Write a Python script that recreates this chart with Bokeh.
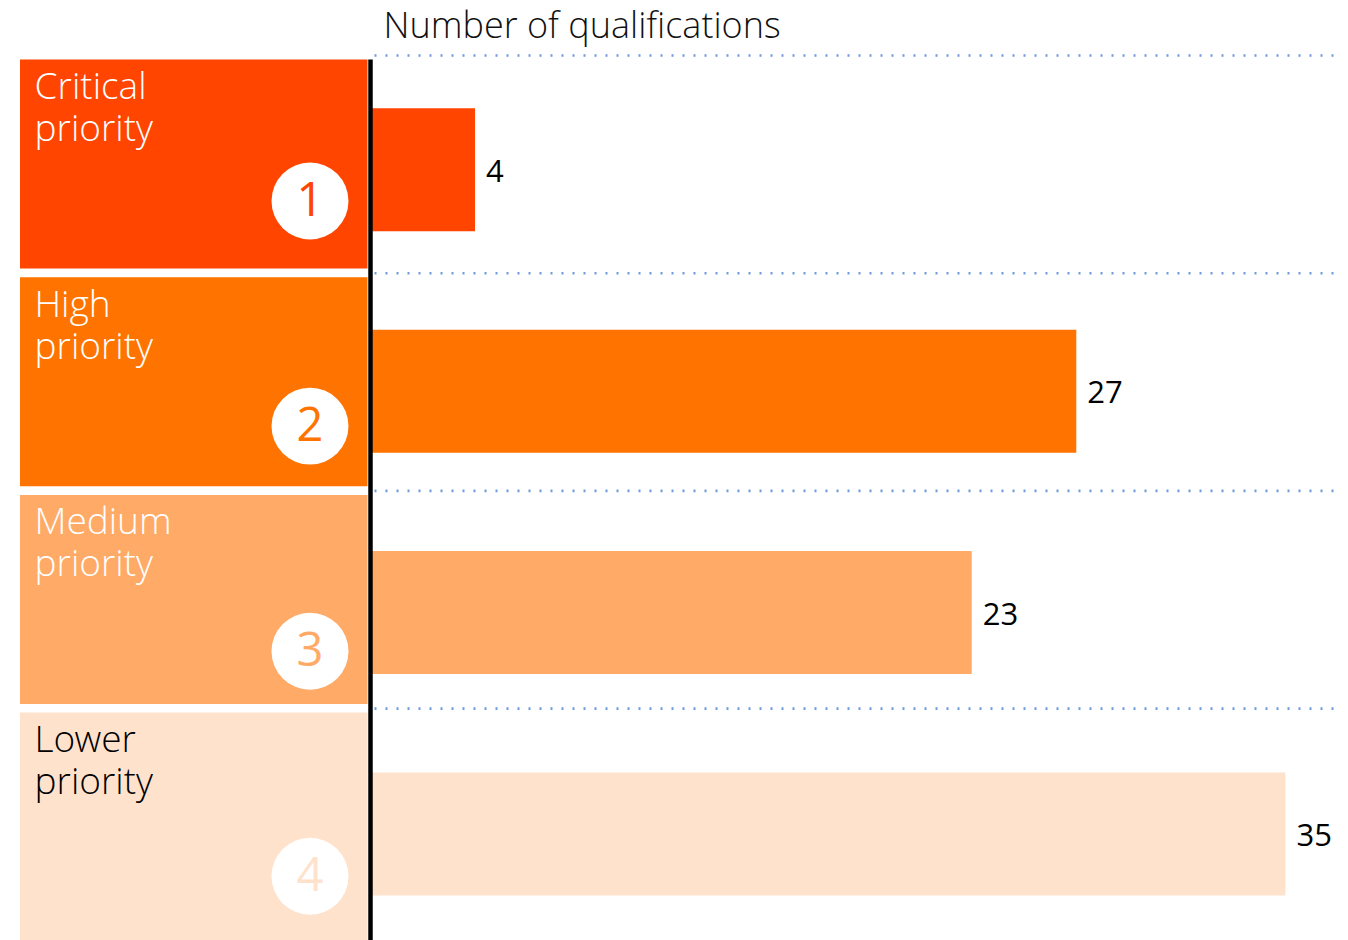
from bokeh.plotting import figure
from bokeh.models import Range1d, ColumnDataSource
from bokeh.core.properties import value
from bokeh.embed import file_html
from bokeh.resources import INLINE

# ---- data ----
categories = ["Critical priority", "High priority", "Medium priority", "Lower priority"]
label_line1 = ["Critical", "High", "Medium", "Lower"]
label_line2 = ["priority", "priority", "priority", "priority"]
ranks = ["1", "2", "3", "4"]
counts = [4, 27, 23, 35]
title_text = "Number of qualifications"

# ---- style ----
colors = ["#FF4500", "#FF7400", "#FFAA66", "#FFE2CC"]
label_colors = ["#FFFFFF", "#FFFFFF", "#FFFFFF", "#000000"]
dot_color = "#6E9BDB"
LIGHT = "Noto Sans Light, Open Sans Light, Lato Light"
W, H = 1348, 940
PX = 26.14          # pixels per qualification
X0 = 370            # pixel column of zero

def xd(px):
    return (px - X0) / PX

p = figure(width=W, height=H, output_backend="svg", toolbar_location=None,
           x_range=Range1d(xd(0), xd(W)), y_range=Range1d(H, 0),
           min_border=0, outline_line_color=None)
p.axis.visible = False
p.grid.visible = False
p.background_fill_color = "white"
p.border_fill_color = "white"

n = len(categories)
box_top = [59 + i * 217.7 for i in range(n)]
box_bot = [268 + i * 217.7 for i in range(n)]
box_bot[-1] = H + 5
bar_c = [169.3 + i * 221.4 for i in range(n)]
bar_h = 123
circ_y = [200.5 + i * 225.1 for i in range(n)]
dot_y = [55 + i * 217.7 for i in range(n)]

# left boxes
p.quad(left=[xd(19.5)] * n, right=[xd(367)] * n, top=box_top, bottom=box_bot,
       fill_color=colors, line_color=None)

# dotted separators
for y in dot_y:
    p.line(x=[xd(374), xd(1336)], y=[y, y], line_color=dot_color, line_width=2.6,
           line_dash="2 9")

# bars
src = ColumnDataSource(dict(
    left=[0] * n, right=counts,
    top=[c - bar_h / 2 for c in bar_c], bottom=[c + bar_h / 2 for c in bar_c],
    color=colors, lab=[str(v) for v in counts],
    ly=[c + 1 for c in bar_c],
))
p.quad(left="left", right="right", top="top", bottom="bottom", source=src,
       fill_color="color", line_color=None)
p.text(x="right", y="ly", text="lab", source=src, x_offset=11,
       text_font=value("Open Sans"), text_font_size="31px", text_color="#000000",
       text_baseline="alphabetic", text_align="left")

# black axis line
p.line(x=[0, 0], y=[59, H + 5], line_color="black", line_width=4.5)

# category labels
p.text(x=[xd(34)] * n, y=[t + 25 for t in box_top], text=label_line1,
       text_font=value(LIGHT), text_font_size="37px", text_color=label_colors,
       text_baseline="alphabetic", text_align="left")
p.text(x=[xd(34)] * n, y=[t + 67 for t in box_top], text=label_line2,
       text_font=value(LIGHT), text_font_size="37px", text_color=label_colors,
       text_baseline="alphabetic", text_align="left")

# rank circles
p.scatter(x=[xd(309.5)] * n, y=circ_y, size=77, marker="circle",
          fill_color="white", line_color=None)
p.text(x=[xd(309.5)] * n, y=[c - 2 for c in circ_y], text=ranks,
       text_font=value("Open Sans"), text_font_size="47px", text_color=colors,
       text_baseline="alphabetic", text_align="center")

# title
p.text(x=[xd(383)], y=[24], text=[title_text], text_font=value(LIGHT),
       text_font_size="36px", text_color="#111111", text_baseline="alphabetic",
       text_align="left")

open("out.html", "w").write(file_html(p, INLINE))
